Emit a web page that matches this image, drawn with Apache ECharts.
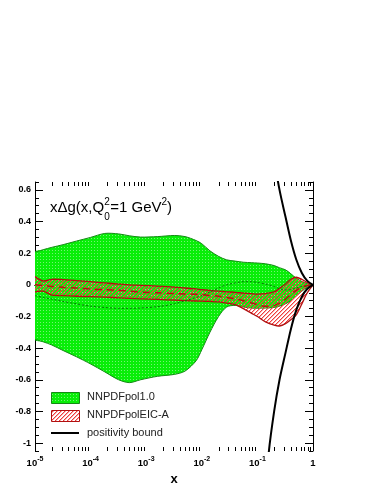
<!DOCTYPE html>
<html>
<head>
<meta charset="utf-8">
<script src="https://cdn.jsdelivr.net/npm/echarts@6/dist/echarts.min.js"></script>
<style>
  html, body { margin: 0; padding: 0; background: #fff; }
  #chart { width: 375px; height: 485px; }
</style>
</head>
<body>
<div id="chart"></div>
<script>
// x grid shared by the two bands
var xs = [1e-5, 1.4e-5, 2e-5, 3.2e-5, 5.6e-5, 1e-4, 1.8e-4, 3.2e-4, 5e-4, 7.9e-4,
          1.6e-3, 3.2e-3, 5e-3, 7.9e-3, 1e-2, 1.4e-2, 2e-2, 2.8e-2, 4e-2, 5.6e-2,
          7.9e-2, 0.1, 0.14, 0.2, 0.25, 0.32, 0.4, 0.5, 0.63, 0.79, 1];

// NNPDFpol1.0
var gUp = [0.207, 0.222, 0.237, 0.254, 0.277, 0.30, 0.325, 0.322, 0.31, 0.302,
           0.305, 0.312, 0.305, 0.28, 0.26, 0.215, 0.18, 0.158, 0.15, 0.143,
           0.14, 0.138, 0.133, 0.122, 0.108, 0.095, 0.07, 0.042, 0.022, 0.008, 0];
var gLo = [-0.345, -0.36, -0.38, -0.415, -0.455, -0.50, -0.55, -0.60, -0.618, -0.60,
           -0.578, -0.566, -0.545, -0.48, -0.41, -0.30, -0.20, -0.14, -0.13, -0.14,
           -0.147, -0.148, -0.147, -0.143, -0.135, -0.12, -0.1, -0.07, -0.04, -0.015, 0];
var gMid = [-0.068, -0.08, -0.09, -0.105, -0.12, -0.135, -0.143, -0.148, -0.148, -0.146,
            -0.138, -0.12, -0.1, -0.08, -0.068, -0.045, -0.02, 0.0, 0.012, 0.02,
            0.02, 0.015, 0.005, -0.01, -0.025, -0.032, -0.03, -0.02, -0.01, -0.004, 0];

// NNPDFpolEIC-A
var rUp = [0.052, 0.025, 0.035, 0.033, 0.027, 0.02, 0.012, 0.005, 0.0, -0.003,
           -0.008, -0.014, -0.02, -0.026, -0.03, -0.035, -0.04, -0.044, -0.047, -0.052,
           -0.056, -0.058, -0.055, -0.045, -0.022, 0.005, 0.035, 0.048, 0.035, 0.015, 0];
var rLo = [-0.045, -0.04, -0.065, -0.068, -0.072, -0.075, -0.078, -0.082, -0.085, -0.088,
           -0.092, -0.097, -0.1, -0.102, -0.103, -0.105, -0.108, -0.115, -0.125, -0.15,
           -0.18, -0.2, -0.234, -0.255, -0.26, -0.245, -0.22, -0.19, -0.12, -0.05, 0];
var rMid = [0.0, -0.005, -0.01, -0.015, -0.02, -0.027, -0.03, -0.034, -0.04, -0.046,
            -0.05, -0.055, -0.058, -0.06, -0.062, -0.067, -0.072, -0.08, -0.088, -0.1,
            -0.115, -0.125, -0.135, -0.13, -0.115, -0.09, -0.06, -0.035, -0.015, -0.005, 0];

// positivity bound |x dg| <= x g
var posX = [0.13, 0.16, 0.2, 0.25, 0.32, 0.4, 0.5, 0.63, 0.79, 1];
var posY = [1.45, 1.06, 0.8, 0.6, 0.43, 0.28, 0.16, 0.075, 0.025, 0];

var yMajor = [-1, -0.8, -0.6, -0.4, -0.2, 0, 0.2, 0.4, 0.6];
var xDecades = [1e-5, 1e-4, 1e-3, 1e-2, 1e-1];
var xMantissa = [2, 3, 4, 5, 6, 7, 8, 9];

var FONT = "'Liberation Sans', Arial, Helvetica, sans-serif";

function makeGreen() {
  var c = document.createElement('canvas');
  c.width = 3; c.height = 3;
  var ctx = c.getContext('2d');
  ctx.fillStyle = '#08ee08';
  ctx.fillRect(0, 0, 3, 3);
  ctx.fillStyle = '#74f274';
  ctx.fillRect(1, 1, 1, 1);
  return c;
}
// "////" hatch: a red pixel diagonal with soft pink neighbours
function makeHatch() {
  var c = document.createElement('canvas');
  c.width = 4; c.height = 4;
  var ctx = c.getContext('2d');
  for (var i = 0; i < 4; i++) {
    ctx.fillStyle = 'rgba(240,60,60,1)';
    ctx.fillRect(3 - i, i, 1, 1);
    ctx.fillStyle = 'rgba(240,80,80,0.45)';
    ctx.fillRect((4 - i) % 4, i, 1, 1);
  }
  return c;
}
var greenFill = { image: makeGreen(), repeat: 'repeat' };
var hatchFill = { image: makeHatch(), repeat: 'repeat' };

var xMinor = [];
xDecades.forEach(function (d) {
  xMantissa.forEach(function (m) { xMinor.push(+(d * m).toPrecision(3)); });
});

function pairs(x, y) {
  return x.map(function (v, i) { return [v, y[i]]; });
}

function bandSeries(name, lo, up, fill, edge, edgeWidth) {
  return {
    name: name,
    type: 'custom',
    clip: true,
    silent: true,
    data: [[xs[0], lo[0]]],
    renderItem: function (params, api) {
      var top = [], bot = [], i;
      for (i = 0; i < xs.length; i++) top.push(api.coord([xs[i], up[i]]));
      for (i = 0; i < xs.length; i++) bot.push(api.coord([xs[i], lo[i]]));
      var poly = top.concat(bot.slice().reverse());
      return {
        type: 'group',
        children: [
          { type: 'polygon', shape: { points: poly, smooth: 0.3 }, style: { fill: fill, stroke: null } },
          { type: 'polyline', shape: { points: top, smooth: 0.3 }, style: { fill: null, stroke: edge, lineWidth: edgeWidth } },
          { type: 'polyline', shape: { points: bot, smooth: 0.3 }, style: { fill: null, stroke: edge, lineWidth: edgeWidth } }
        ]
      };
    }
  };
}

var chart = echarts.init(document.getElementById('chart'));

// title pieces measured so super/subscripts can sit over each other
var mctx = document.createElement('canvas').getContext('2d');
function tw(s, size) { mctx.font = size + 'px ' + FONT; return mctx.measureText(s).width; }
var tx = 50, tyMain = 209;
var w1 = tw('x\u0394g(x,Q', 15);
var wSup = tw('2', 10);
var w2 = tw('=1 GeV', 15);
var titleGraphics = [
  { type: 'text', left: tx, top: tyMain - 9, style: { text: 'x\u0394g(x,Q', font: '15px ' + FONT, fill: '#000' } },
  { type: 'text', left: tx + w1, top: tyMain - 12, style: { text: '2', font: '10px ' + FONT, fill: '#000' } },
  { type: 'text', left: tx + w1, top: tyMain + 3, style: { text: '0', font: '10px ' + FONT, fill: '#000' } },
  { type: 'text', left: tx + w1 + wSup + 0.5, top: tyMain - 9, style: { text: '=1 GeV', font: '15px ' + FONT, fill: '#000' } },
  { type: 'text', left: tx + w1 + wSup + 0.5 + w2, top: tyMain - 12, style: { text: '2', font: '10px ' + FONT, fill: '#000' } },
  { type: 'text', left: tx + w1 + 2 * wSup + 0.5 + w2, top: tyMain - 9, style: { text: ')', font: '15px ' + FONT, fill: '#000' } }
];

var legendGraphics = [
  { type: 'rect', shape: { x: 51.5, y: 392.5, width: 28, height: 11 }, style: { fill: greenFill, stroke: '#138a13', lineWidth: 1 } },
  { type: 'rect', shape: { x: 51.5, y: 410.5, width: 28, height: 11 }, style: { fill: hatchFill, stroke: '#b01010', lineWidth: 1 } },
  { type: 'line', shape: { x1: 51, y1: 433, x2: 79, y2: 433 }, style: { stroke: '#000', lineWidth: 2 } },
  { type: 'text', left: 87, top: 391, style: { text: 'NNPDFpol1.0', font: '11px ' + FONT, fill: '#222' } },
  { type: 'text', left: 87, top: 409, style: { text: 'NNPDFpolEIC-A', font: '11px ' + FONT, fill: '#222' } },
  { type: 'text', left: 87, top: 427, style: { text: 'positivity bound', font: '11px ' + FONT, fill: '#222' } }
];

var axisLineStyle = { show: true, lineStyle: { color: '#000', width: 1 } };
var labelFont = { fontFamily: FONT, fontWeight: 'bold', fontSize: 9, color: '#000' };

chart.setOption({
  animation: false,
  grid: { left: 35, right: 62, top: 182, bottom: 34, outerBoundsMode: 'none' },
  xAxis: [
    {
      type: 'log', logBase: 10, min: 1e-5, max: 1, position: 'bottom',
      axisLine: axisLineStyle,
      axisTick: { inside: true, length: 8, lineStyle: { color: '#000' } },
      splitLine: { show: false },
      axisLabel: {
        margin: 5,
        fontFamily: FONT, fontWeight: 'bold', fontSize: 9, color: '#000',
        formatter: function (v) {
          var e = Math.round(Math.log(v) / Math.LN10);
          if (e === 0) return '{b|1}';
          return '{b|10}{s|' + e + '}';
        },
        rich: {
          b: { fontFamily: FONT, fontWeight: 'bold', fontSize: 9.5, color: '#000', lineHeight: 12, verticalAlign: 'bottom' },
          s: { fontFamily: FONT, fontWeight: 'bold', fontSize: 7, color: '#000', lineHeight: 12, verticalAlign: 'top' }
        }
      },
      name: 'x', nameLocation: 'middle', nameGap: 20,
      nameTextStyle: { fontFamily: FONT, fontWeight: 'bold', fontSize: 13, color: '#000' }
    },
    {
      type: 'log', logBase: 10, min: 1e-5, max: 1, position: 'top',
      axisLine: axisLineStyle,
      axisTick: { inside: true, length: 8, lineStyle: { color: '#000' } },
      axisLabel: { show: false },
      splitLine: { show: false }
    }
  ],
  yAxis: [
    {
      type: 'value', min: -1.05, max: 0.65, position: 'left',
      axisLine: axisLineStyle,
      axisTick: { inside: true, length: 8, customValues: yMajor, lineStyle: { color: '#000' } },
      axisLabel: Object.assign({ margin: 4, customValues: yMajor }, labelFont),
      splitLine: { show: false }
    },
    {
      type: 'value', min: -1.05, max: 0.65, interval: 0.05, position: 'left',
      axisLine: { show: false },
      axisTick: { inside: true, length: 4, lineStyle: { color: '#000' } },
      axisLabel: { show: false },
      splitLine: { show: false }
    },
    {
      type: 'value', min: -1.05, max: 0.65, position: 'right',
      axisLine: axisLineStyle,
      axisTick: { inside: true, length: 8, customValues: yMajor, lineStyle: { color: '#000' } },
      axisLabel: { show: false, customValues: yMajor },
      splitLine: { show: false }
    },
    {
      type: 'value', min: -1.05, max: 0.65, interval: 0.05, position: 'right',
      axisLine: { show: false },
      axisTick: { inside: true, length: 4, lineStyle: { color: '#000' } },
      axisLabel: { show: false },
      splitLine: { show: false }
    }
  ],
  graphic: titleGraphics.concat(legendGraphics),
  series: [
    bandSeries('NNPDFpol1.0', gLo, gUp, greenFill, '#138a13', 1),
    {
      name: 'pol1.0 central', type: 'line', data: pairs(xs, gMid), smooth: 0.3,
      showSymbol: false, silent: true,
      lineStyle: { color: '#087008', width: 1, type: [2, 2] }
    },
    bandSeries('NNPDFpolEIC-A', rLo, rUp, hatchFill, '#b01010', 1.3),
    {
      name: 'EIC-A central', type: 'line', data: pairs(xs, rMid), smooth: 0.3,
      showSymbol: false, silent: true,
      lineStyle: { color: '#b81010', width: 1.5, type: [7, 5] }
    },
    {
      name: 'positivity bound', type: 'line', data: pairs(posX, posY), smooth: 0.3,
      showSymbol: false, silent: true,
      lineStyle: { color: '#000', width: 2 }
    },
    {
      name: 'positivity bound -', type: 'line', data: pairs(posX, posY.map(function (v) { return -v; })), smooth: 0.3,
      showSymbol: false, silent: true,
      lineStyle: { color: '#000', width: 2 }
    },
    {
      name: 'x minor ticks', type: 'custom', silent: true,
      data: xMinor.map(function (v) { return [v, 0]; }),
      renderItem: function (params, api) {
        var p = api.coord([api.value(0), 0]);
        var cs = params.coordSys;
        var x = Math.round(p[0]) + 0.5;
        var b = cs.y + cs.height, t = cs.y;
        return {
          type: 'group',
          children: [
            { type: 'line', shape: { x1: x, y1: b, x2: x, y2: b - 4 }, style: { stroke: '#000', lineWidth: 1 } },
            { type: 'line', shape: { x1: x, y1: t, x2: x, y2: t + 4 }, style: { stroke: '#000', lineWidth: 1 } }
          ]
        };
      }
    }
  ]
});
</script>
</body>
</html>
